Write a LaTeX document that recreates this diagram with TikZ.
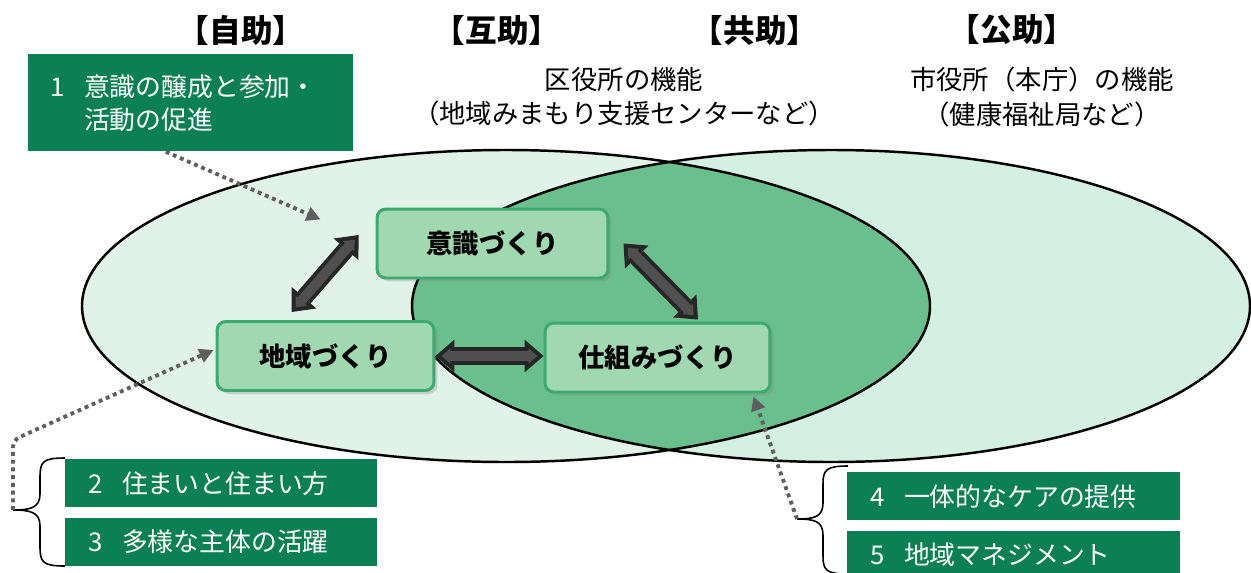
\documentclass[tikz,border=0pt]{standalone}
\usepackage{fontspec}
\setmainfont{Noto Sans CJK JP}
\usetikzlibrary{arrows.meta, positioning, shadows}
\definecolor{darkgreen}{RGB}{11,128,84}
\definecolor{leftfill}{RGB}{225,242,232}
\definecolor{rightfill}{RGB}{212,240,226}
\definecolor{midfill}{RGB}{106,192,140}
\definecolor{boxfill}{RGB}{160,217,176}
\definecolor{boxline}{RGB}{60,170,110}
\definecolor{dotgray}{RGB}{95,95,95}
\definecolor{arrowgray}{RGB}{80,80,80}

\begin{document}
\begin{tikzpicture}[
	x=0.02cm, y=-0.02cm,
	heading/.style={font=\fontsize{18}{22}\selectfont\bfseries},
	caption/.style={align=center, font=\fontsize{15}{19.5}\selectfont},
	stepbox/.style={rectangle, rounded corners=5pt, draw=boxline, line width=1.7pt, fill=boxfill, minimum height=1.38cm, font=\fontsize{15}{18}\selectfont\bfseries, drop shadow={opacity=0.3, shadow xshift=0.07cm, shadow yshift=-0.07cm}},
	itembox/.style={rectangle, fill=darkgreen, text=white, anchor=north west, align=left, inner xsep=0.46cm, minimum height=0.96cm, font=\fontsize{14.7}{18.7}\selectfont},
	ring/.style={draw=black, line width=1.4pt},
	curly/.style={draw=black, line width=0.9pt},
	dotlink/.style={draw=dotgray, line width=2.2pt, dash pattern=on 2.2pt off 2.2pt, -{Triangle[length=8pt, width=8pt]}},
	fatouter/.style={draw=black!85, line width=10pt, {Triangle[length=10.8pt, width=18.7pt, line width=0pt]}-{Triangle[length=10.8pt, width=18.7pt, line width=0pt]}},
	fatinner/.style={draw=arrowgray, line width=5.6pt, shorten <=3.5pt, shorten >=3.5pt, {Triangle[length=5pt, width=8.7pt, line width=0pt]}-{Triangle[length=5pt, width=8.7pt, line width=0pt]}}
	]
	\useasboundingbox (0,0) rectangle (1251,572);

	% the two circles of help
	\fill[leftfill] (506,306) ellipse [x radius=424, y radius=156];
	\fill[rightfill] (831,306) ellipse [x radius=419, y radius=156];
	\begin{scope}
		\clip (506,306) ellipse [x radius=424, y radius=156];
		\fill[midfill] (831,306) ellipse [x radius=419, y radius=156];
	\end{scope}
	\draw[ring] (506,306) ellipse [x radius=424, y radius=156];
	\draw[ring] (831,306) ellipse [x radius=419, y radius=156];

	% headings
	\node[heading] (self) at (241,30) {【自助】};
	\node[heading] (mutual) at (497,30) {【互助】};
	\node[heading] (joint) at (755,30) {【共助】};
	\node[heading] (public) at (1012,30) {【公助】};
	\node[caption] (wardoffice) at (624,97) {区役所の機能\\（地域みまもり支援センターなど）};
	\node[caption] (cityhall) at (1042,97) {市役所（本庁）の機能\\（健康福祉局など）};

	% the three steps
	\node[stepbox, minimum width=4.62cm] (sense) at (492.5,243.5) {意識づくり};
	\node[stepbox, minimum width=4.34cm] (area) at (325.5,356) {地域づくり};
	\node[stepbox, minimum width=4.5cm] (scheme) at (657.5,357.5) {仕組みづくり};

	\draw[fatouter] ([xshift=1.52cm,yshift=0.16cm]area.north west) -- ([xshift=-0.34cm,yshift=0.17cm]sense.west);
	\draw[fatinner] ([xshift=1.52cm,yshift=0.16cm]area.north west) -- ([xshift=-0.34cm,yshift=0.17cm]sense.west);
	\draw[fatouter] ([xshift=0.28cm]sense.east) -- ([xshift=0.81cm,yshift=0.04cm]scheme.north);
	\draw[fatinner] ([xshift=0.28cm]sense.east) -- ([xshift=0.81cm,yshift=0.04cm]scheme.north);
	\draw[fatouter] (area.east) -- (area.east -| scheme.west);
	\draw[fatinner] (area.east) -- (area.east -| scheme.west);

	% numbered items
	\node[itembox, text width=5.62cm, minimum height=1.94cm, inner xsep=0.44cm] (item1) at (28,54) {1\hspace{0.75em}意識の醸成と参加・\\\phantom{1}\hspace{0.75em}活動の促進};
	\node[itembox, text width=5.32cm] (item2) at (65,459) {2\hspace{0.75em}住まいと住まい方};
	\node[itembox, text width=5.32cm, below=0.2cm of item2] (item3) {3\hspace{0.75em}多様な主体の活躍};
	\node[itembox, text width=5.74cm] (item4) at (847,472) {4\hspace{0.75em}一体的なケアの提供};
	\node[itembox, text width=5.74cm, below=0.2cm of item4] (item5) {5\hspace{0.75em}地域マネジメント};

	% braces
	\draw[curly] (65,458) .. controls (42,458) and (40,462) .. (40,478) -- (40,494) .. controls (40,508) and (30,510) .. (13,510) .. controls (30,510) and (40,512) .. (40,526) -- (40,546) .. controls (40,562) and (42,566) .. (65,566);
	\draw[curly] (848,466) .. controls (826,466) and (823,470) .. (823,484) -- (823,503) .. controls (823,517) and (814,519) .. (797,519) .. controls (814,519) and (823,521) .. (823,535) -- (823,556) .. controls (823,570) and (826,574) .. (848,574);
	\coordinate (brace23) at (13,510);
	\coordinate (brace45) at (797,519);

	\draw[dotlink] ([xshift=-0.5cm]item1.south) -- ([xshift=-1.1cm,yshift=-0.24cm]sense.north west);
	\draw[dotlink, rounded corners=4pt] (brace23) -- (13,440) -- ([xshift=-0.04cm,yshift=0.12cm]area.west);
	\draw[dotlink] (brace45) -- ([xshift=-0.36cm,yshift=-0.06cm]scheme.south east);
\end{tikzpicture}
\end{document}
